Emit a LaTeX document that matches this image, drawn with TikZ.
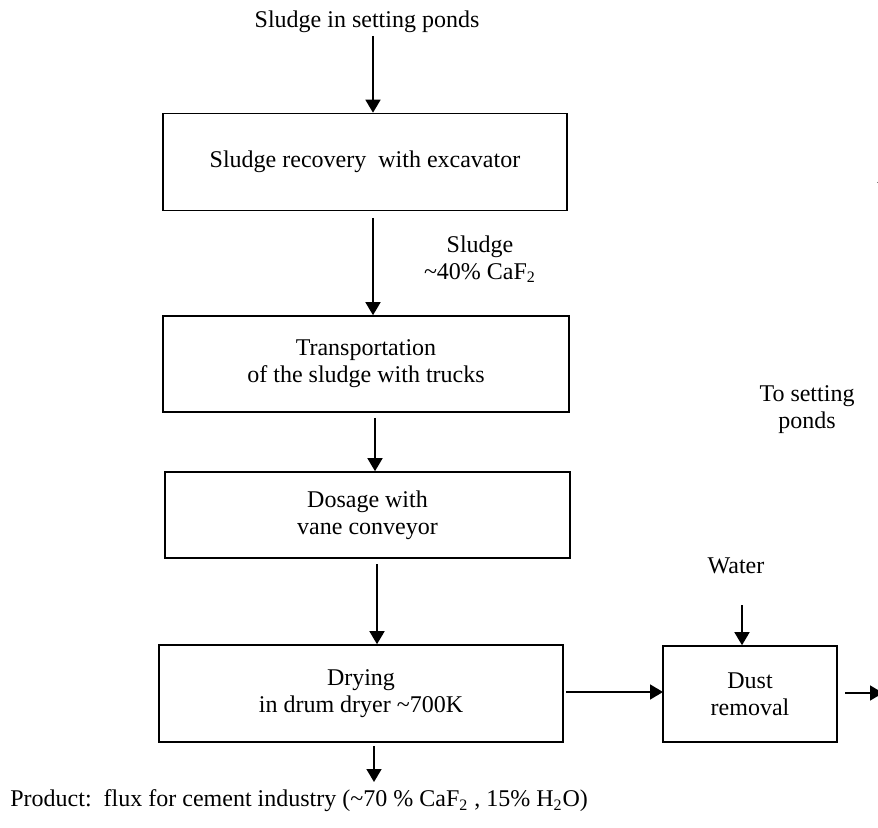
\documentclass[tikz,border=0pt]{standalone}
\usepackage{fontspec}
\setmainfont{Liberation Serif}
\usetikzlibrary{arrows.meta}
\tikzset{
  every node/.style={font=\fontsize{12}{13.5}\selectfont, align=center, inner sep=0pt},
  procbox/.style={draw, line width=0.8pt},
  flow/.style={line width=0.8pt, -{Triangle[length=6.5pt,width=7.5pt]}},
}
\begin{document}
\begin{tikzpicture}[x=0.5pt, y=-0.5pt]
  \useasboundingbox (0,0) rectangle (878,828);
  \clip (0,0) rectangle (878,828);

  % process boxes
  \node[procbox, minimum width=202pt, minimum height=48.5pt] (rec) at (365,162) {Sludge recovery\ \ with excavator};
  \node[procbox, minimum width=203pt, minimum height=48pt] (trans) at (366,364) {Transportation\\of the sludge with trucks};
  \node[procbox, minimum width=202.5pt, minimum height=43pt] (dos) at (367.5,515) {Dosage with\\vane conveyor};
  \node[procbox, minimum width=202pt, minimum height=48.5pt] (dry) at (361,693.5) {Drying\\in drum dryer \textasciitilde700K};
  \node[procbox, minimum width=87pt, minimum height=48pt] (dust) at (750,694) {Dust\\removal};

  % labels
  \node (src) at (367,22) {Sludge in setting ponds};
  \node (slab) at (480,259) {Sludge\\\textasciitilde40\% CaF\textsubscript{2}};
  \node (water) at (736,566) {Water};
  \node (ponds) at (807,410) {To setting\\ponds};
  \node[anchor=west] (prod) at (10,801) {Product:\ \ flux for cement industry (\textasciitilde70 \% CaF\textsubscript{2} , 15\% H\textsubscript{2}O)};

  % free ends of connectors
  \coordinate (srcend) at (373,36);
  \coordinate (s1) at (373,218);
  \coordinate (s2) at (375,418);
  \coordinate (s3) at (377,564);
  \coordinate (s4) at (374,746);
  \coordinate (prodtop) at (374,782);
  \coordinate (dryout) at (566,692);
  \coordinate (dustin) at (663,692);
  \coordinate (wend) at (742,605);
  \coordinate (dustout) at (845,693);
  \coordinate (out) at (883,693);
  \coordinate (upa) at (885,205);
  \coordinate (upb) at (885,170);

  % connectors
  \draw[flow] (srcend) -- (rec.north -| srcend);
  \draw[flow] (s1) -- (trans.north -| s1);
  \draw[flow] (s2) -- (dos.north -| s2);
  \draw[flow] (s3) -- (dry.north -| s3);
  \draw[flow] (s4) -- (prodtop);
  \draw[flow] (dryout) -- (dustin);
  \draw[flow] (wend) -- (dust.north -| wend);
  \draw[flow] (dustout) -- (out);
  \draw[flow] (upa) -- (upb);
\end{tikzpicture}
\end{document}
